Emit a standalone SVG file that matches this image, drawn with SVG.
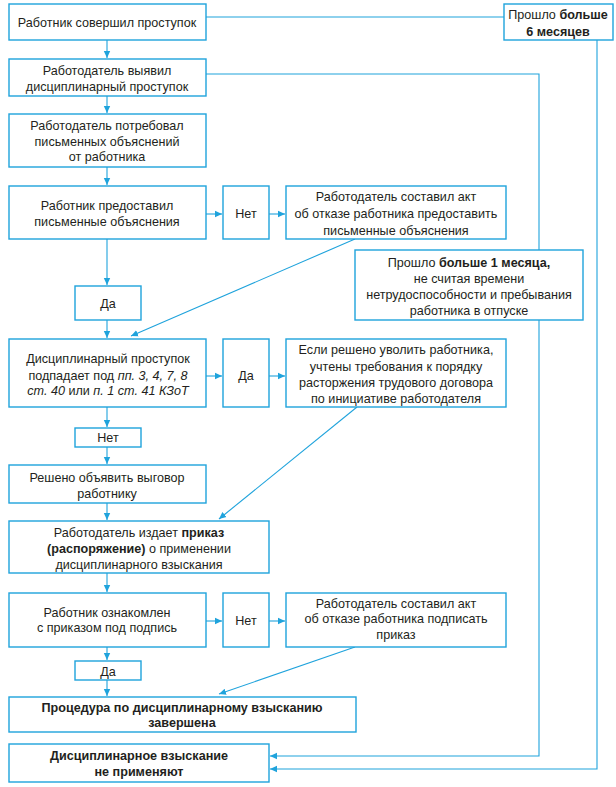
<svg xmlns="http://www.w3.org/2000/svg" width="616" height="787" viewBox="0 0 616 787">
<defs>
<marker id="ah" markerWidth="8" markerHeight="8" refX="7" refY="4" orient="auto" markerUnits="userSpaceOnUse">
<path d="M0,0.8 L7,4 L0,7.2 Z" fill="#1fa3dc"/>
</marker>
<style>
.b{fill:#fff;stroke:#1fa3dc;stroke-width:1.4}
.c{fill:none;stroke:#1fa3dc;stroke-width:1.1}
.a{fill:none;stroke:#1fa3dc;stroke-width:1.1;marker-end:url(#ah)}
text{font-family:"Liberation Sans",Arial,sans-serif;font-size:12.6px;fill:#231f20;text-anchor:middle}
.bd{font-weight:bold}
.it{font-style:italic}
</style>
</defs>
<rect width="616" height="787" fill="#fff"/>
<g id="connectors">
<path class="c" d="M206,17 H504"/>
<path class="a" d="M597,40 V769 H270"/>
<path class="a" d="M206,74 H539 V756 H270"/>
<path class="a" d="M107,40 V58"/>
<path class="a" d="M107,96 V113"/>
<path class="a" d="M107,167 V185"/>
<path class="a" d="M107,239 V285"/>
<path class="a" d="M107,320 V338"/>
<path class="a" d="M107,407 V427"/>
<path class="a" d="M107,447 V464"/>
<path class="a" d="M107,503 V520"/>
<path class="a" d="M107,573 V592"/>
<path class="a" d="M107,647 V660"/>
<path class="a" d="M107,680 V696"/>
<path class="a" d="M206,214 H222"/>
<path class="a" d="M269,214 H285"/>
<path class="a" d="M206,376 H222"/>
<path class="a" d="M269,376 H285"/>
<path class="a" d="M206,621 H222"/>
<path class="a" d="M269,621 H285"/>
<path class="a" d="M355,239 L131,336"/>
<path class="a" d="M357,407 L219,519"/>
<path class="a" d="M355,647 L219,694"/>
</g>
<g id="n1"><rect class="b" x="9" y="4" width="197" height="36"/><text x="107" y="27">Работник совершил проступок</text></g>
<g id="n2"><rect class="b" x="9" y="59" width="197" height="37"/><text x="107" y="75">Работодатель выявил</text><text x="107" y="91">дисциплинарный проступок</text></g>
<g id="n3"><rect class="b" x="9" y="114" width="197" height="53"/><text x="107" y="130">Работодатель потребовал</text><text x="107" y="146">письменных объяснений</text><text x="107" y="161">от работника</text></g>
<g id="n4"><rect class="b" x="9" y="186" width="197" height="53"/><text x="107" y="210">Работник предоставил</text><text x="107" y="226">письменные объяснения</text></g>
<g id="n4no"><rect class="b" x="223" y="186" width="46" height="53"/><text x="246" y="218">Нет</text></g>
<g id="n4act"><rect class="b" x="286" y="186" width="220" height="53"/><text x="396" y="201">Работодатель составил акт</text><text x="396" y="218">об отказе работника предоставить</text><text x="396" y="235">письменные объяснения</text></g>
<g id="n4yes"><rect class="b" x="75" y="286" width="66" height="34"/><text x="108" y="308">Да</text></g>
<g id="m6"><rect class="b" x="504" y="4" width="109" height="36"/><text x="558" y="19">Прошло <tspan class="bd">больше</tspan></text><text x="558" y="36" class="bd">6 месяцев</text></g>
<g id="m1"><rect class="b" x="355" y="250" width="228" height="70"/><text x="469" y="267">Прошло <tspan class="bd">больше 1 месяца,</tspan></text><text x="469" y="283">не считая времени</text><text x="469" y="299">нетрудоспособности и пребывания</text><text x="469" y="315">работника в отпуске</text></g>
<g id="n5"><rect class="b" x="9" y="339" width="197" height="68"/><text x="108" y="363">Дисциплинарный проступок</text><text x="108" y="380">подпадает под <tspan class="it">пп. 3, 4, 7, 8</tspan></text><text x="108" y="395"><tspan class="it">ст. 40</tspan> или <tspan class="it">п. 1 ст. 41 КЗоТ</tspan></text></g>
<g id="n5yes"><rect class="b" x="223" y="339" width="46" height="68"/><text x="246" y="380">Да</text></g>
<g id="n5act"><rect class="b" x="286" y="339" width="220" height="68"/><text x="396" y="354">Если решено уволить работника,</text><text x="396" y="371">учтены требования к порядку</text><text x="396" y="387">расторжения трудового договора</text><text x="396" y="403">по инициативе работодателя</text></g>
<g id="n5no"><rect class="b" x="75" y="428" width="66" height="19"/><text x="108" y="442">Нет</text></g>
<g id="n6"><rect class="b" x="9" y="465" width="197" height="38"/><text x="107" y="482">Решено объявить выговор</text><text x="107" y="498">работнику</text></g>
<g id="n7"><rect class="b" x="9" y="521" width="260" height="52"/><text x="139" y="537">Работодатель издает <tspan class="bd">приказ</tspan></text><text x="139" y="553"><tspan class="bd">(распоряжение)</tspan> о применении</text><text x="139" y="569">дисциплинарного взыскания</text></g>
<g id="n8"><rect class="b" x="9" y="593" width="197" height="54"/><text x="107" y="617">Работник ознакомлен</text><text x="107" y="632">с приказом под подпись</text></g>
<g id="n8no"><rect class="b" x="223" y="593" width="46" height="54"/><text x="246" y="625">Нет</text></g>
<g id="n8act"><rect class="b" x="286" y="593" width="220" height="54"/><text x="396" y="608">Работодатель составил акт</text><text x="396" y="623">об отказе работника подписать</text><text x="396" y="639">приказ</text></g>
<g id="n8yes"><rect class="b" x="75" y="661" width="66" height="19"/><text x="108" y="676">Да</text></g>
<g id="n9"><rect class="b" x="9" y="697" width="347" height="35"/><text x="182" y="712" class="bd">Процедура по дисциплинарному взысканию</text><text x="182" y="727" class="bd">завершена</text></g>
<g id="n10"><rect class="b" x="9" y="744" width="260" height="38"/><text x="139" y="760" class="bd">Дисциплинарное взыскание</text><text x="139" y="776" class="bd">не применяют</text></g>
</svg>
